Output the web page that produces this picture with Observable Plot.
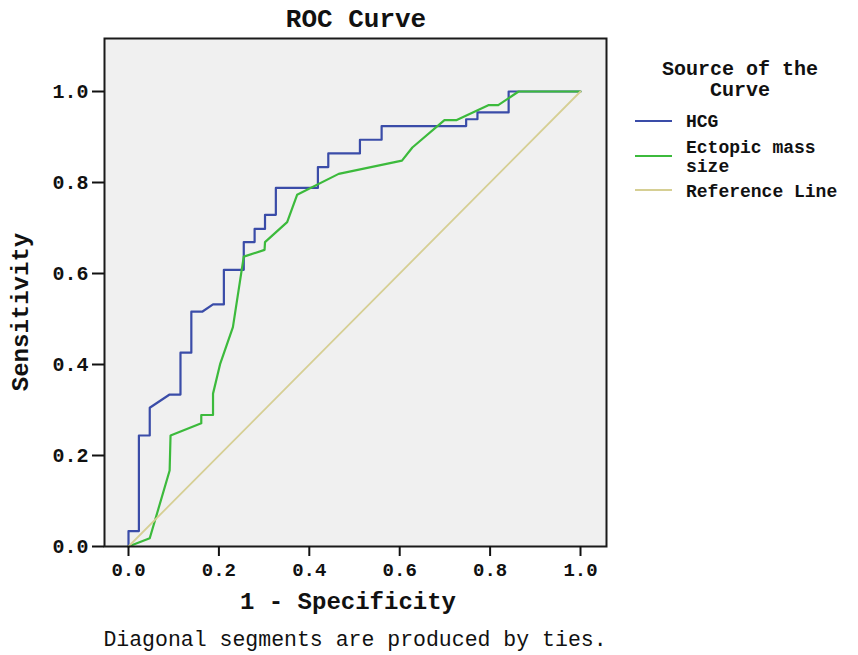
<!DOCTYPE html>
<html>
<head>
<meta charset="utf-8">
<script src="https://cdn.jsdelivr.net/npm/d3@7"></script>
<script src="https://cdn.jsdelivr.net/npm/@observablehq/plot@0.6"></script>
<style>
  body { margin: 0; background: #fff; }
  #wrap { position: relative; width: 858px; height: 655px; font-family: "Liberation Mono", "Courier New", monospace; color: #111; }
  .t { position: absolute; transform: translate(-50%, -50%); white-space: nowrap; font-weight: bold; }
  .leg { position: absolute; white-space: nowrap; font-weight: bold; font-size: 18px; line-height: 18px; }
  .sw { position: absolute; height: 2px; width: 37px; left: 635px; }
</style>
</head>
<body>
<div id="wrap"></div>
<script>
// HCG ROC curve (1 - specificity, sensitivity)
const hcgFpr = [0, 0, 0.023, 0.023, 0.047, 0.047, 0.091, 0.115, 0.115, 0.139, 0.139, 0.163, 0.187, 0.211, 0.211, 0.255, 0.255, 0.279, 0.279, 0.302, 0.302, 0.326, 0.326, 0.419, 0.419, 0.442, 0.442, 0.512, 0.512, 0.560, 0.560, 0.747, 0.747, 0.772, 0.772, 0.841, 0.841, 1];
const hcgTpr = [0, 0.034, 0.034, 0.244, 0.244, 0.305, 0.334, 0.334, 0.426, 0.426, 0.516, 0.516, 0.532, 0.532, 0.608, 0.608, 0.669, 0.669, 0.698, 0.698, 0.729, 0.729, 0.788, 0.788, 0.834, 0.834, 0.864, 0.864, 0.894, 0.894, 0.924, 0.924, 0.939, 0.939, 0.954, 0.954, 1, 1];
// Ectopic mass size ROC curve
const massFpr = [0, 0.047, 0.091, 0.093, 0.161, 0.161, 0.187, 0.187, 0.203, 0.231, 0.255, 0.301, 0.302, 0.351, 0.373, 0.465, 0.605, 0.628, 0.699, 0.725, 0.796, 0.818, 0.863, 1];
const massTpr = [0, 0.018, 0.167, 0.244, 0.271, 0.289, 0.289, 0.336, 0.402, 0.482, 0.637, 0.652, 0.669, 0.713, 0.773, 0.819, 0.848, 0.877, 0.937, 0.937, 0.970, 0.970, 1, 1];
// Reference line
const refFpr = [0, 1];
const refTpr = [0, 1];
const tickValues = [0, 0.2, 0.4, 0.6, 0.8, 1.0];
const seriesNames = ["HCG", "Ectopic mass size", "Reference Line"];
const seriesColors = ["#3a4ca8", "#3cba3c", "#d6cf94"];

const toRows = (xs, ys) => xs.map((x, i) => ({x, y: ys[i]}));
const hcg = toRows(hcgFpr, hcgTpr);
const mass = toRows(massFpr, massTpr);
const ref = toRows(refFpr, refTpr);

const font = "Liberation Mono, Courier New, monospace";
const chart = Plot.plot({
  width: 858,
  height: 655,
  marginLeft: 104,
  marginRight: 252,
  marginTop: 38,
  marginBottom: 109,
  x: {domain: [-0.0531, 1.0575]},
  y: {domain: [0, 1.1165]},
  style: {fontFamily: font, fontWeight: "bold", background: "transparent", color: "#111"},
  marks: [
    Plot.frame({fill: "#f0f0f0"}),
    Plot.line(hcg, {x: "x", y: "y", stroke: seriesColors[0], strokeWidth: 2.2}),
    Plot.line(mass, {x: "x", y: "y", stroke: seriesColors[1], strokeWidth: 2.2}),
    Plot.line(ref, {x: "x", y: "y", stroke: seriesColors[2], strokeWidth: 1.8}),
    Plot.frame({stroke: "#1a1a1a", strokeWidth: 2}),
    Plot.axisX({ticks: tickValues, tickFormat: d3.format(".1f"), tickSize: 10, tickPadding: 6, fontSize: 19, fontWeight: "bold", strokeWidth: 2, label: null}),
    Plot.axisY({ticks: tickValues, tickFormat: d3.format(".1f"), tickSize: 12, tickPadding: 4, fontSize: 20, fontWeight: "bold", strokeWidth: 2, label: null})
  ]
});

const wrap = document.getElementById("wrap");
chart.style.position = "absolute";
chart.style.left = "0px";
chart.style.top = "0px";
wrap.appendChild(chart);

function addText(txt, x, y, size, extra = {}) {
  const d = document.createElement("div");
  d.className = "t";
  d.textContent = txt;
  d.style.left = x + "px";
  d.style.top = y + "px";
  d.style.fontSize = size + "px";
  d.style.lineHeight = size + "px";
  Object.assign(d.style, extra);
  wrap.appendChild(d);
}
addText("ROC Curve", 356, 20, 26);
addText("1 - Specificity", 348, 603, 24);
addText("Sensitivity", 22, 312, 24, {transform: "translate(-50%, -50%) rotate(-90deg)"});
addText("Diagonal segments are produced by ties.", 355, 641, 21.5, {fontWeight: "normal"});
addText("Source of the", 740, 70, 20);
addText("Curve", 740, 91, 20);

// legend
const legY = [121, 156, 190];
const legTextY = [[122], [148, 167], [192]];
const legLines = [["HCG"], ["Ectopic mass", "size"], ["Reference Line"]];
seriesNames.forEach((name, i) => {
  const sw = document.createElement("div");
  sw.className = "sw";
  sw.style.top = (legY[i] - 1) + "px";
  sw.style.background = seriesColors[i];
  wrap.appendChild(sw);
  legLines[i].forEach((ln, j) => {
    const t = document.createElement("div");
    t.className = "leg";
    t.textContent = ln;
    t.style.left = "686px";
    t.style.top = (legTextY[i][j] - 9) + "px";
    wrap.appendChild(t);
  });
});
</script>
</body>
</html>
